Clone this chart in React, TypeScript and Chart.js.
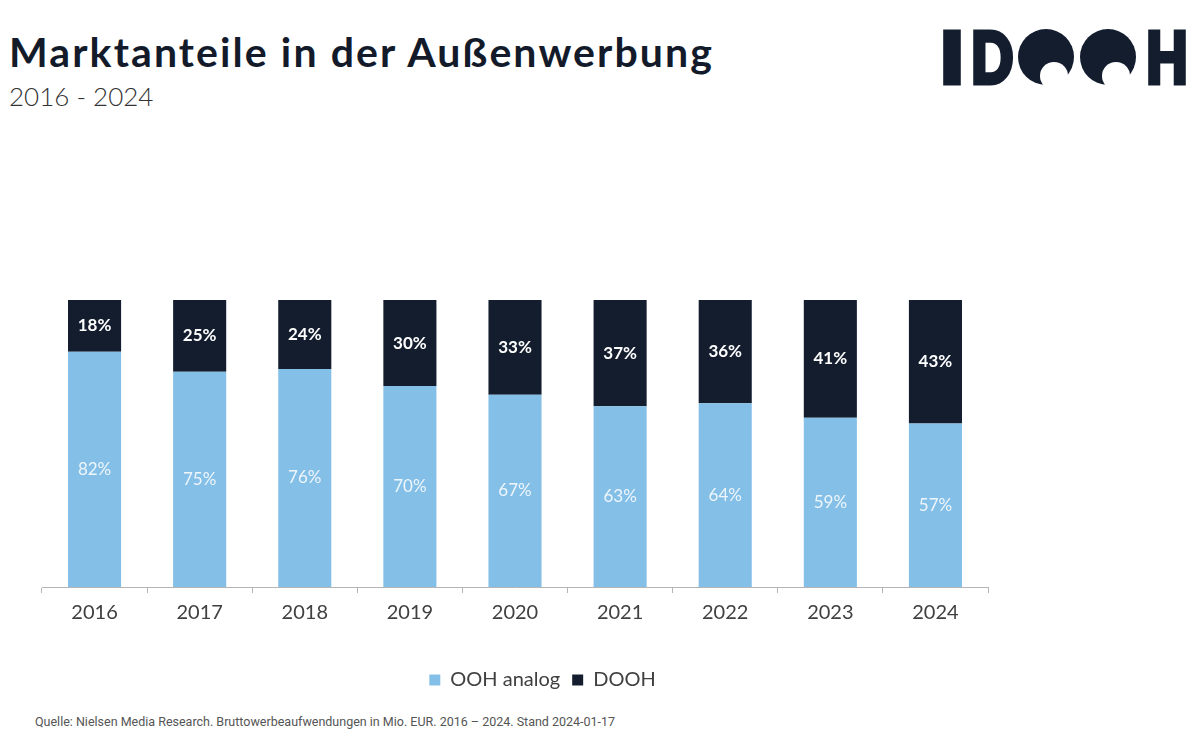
import React, { useEffect, useRef } from "react";
import { Chart, registerables } from "chart.js";

Chart.register(...registerables);

const YEARS = ["2016", "2017", "2018", "2019", "2020", "2021", "2022", "2023", "2024"];
const OOH_ANALOG = [82, 75, 76, 70, 67, 63, 64, 59, 57];
const DOOH = [18, 25, 24, 30, 33, 37, 36, 41, 43];
const SERIES_NAMES = ["OOH analog", "DOOH"];

const LIGHT_BLUE = "#84BFE7";
const DARK = "#131D2E";
const FONT = "Lato, 'Open Sans', sans-serif";

const barLabelPlugin = {
  id: "barLabels",
  afterDatasetsDraw(chart: any) {
    const ctx = chart.ctx;
    ctx.save();
    ctx.textAlign = "center";
    ctx.textBaseline = "middle";
    chart.data.datasets.forEach((ds: any, di: number) => {
      const meta = chart.getDatasetMeta(di);
      meta.data.forEach((bar: any, i: number) => {
        const v = ds.data[i];
        const y = (bar.y + bar.base) / 2;
        ctx.fillStyle = di === 0 ? "#EEF6FC" : "#FFFFFF";
        ctx.font = (di === 0 ? "400 " : "700 ") + "17px " + FONT;
        ctx.fillText(v + "%", bar.x, y);
      });
    });
    ctx.restore();
  },
};

function BarChart() {
  const ref = useRef<HTMLCanvasElement | null>(null);
  useEffect(() => {
    if (!ref.current) return;
    const chart = new Chart(ref.current, {
      type: "bar",
      data: {
        labels: YEARS,
        datasets: [
          {
            label: SERIES_NAMES[0],
            data: OOH_ANALOG,
            backgroundColor: LIGHT_BLUE,
            categoryPercentage: 1,
            barPercentage: 0.505,
            yAxisID: "y",
          },
          {
            label: SERIES_NAMES[1],
            data: DOOH,
            backgroundColor: DARK,
            categoryPercentage: 1,
            barPercentage: 0.505,
            yAxisID: "y",
          },
        ],
      },
      options: {
        animation: false,
        responsive: true,
        maintainAspectRatio: false,
        layout: { padding: { top: 39, left: 0, right: 0, bottom: 8 } },
        plugins: {
          tooltip: { enabled: false },
          legend: {
            position: "bottom",
            labels: {
              boxWidth: 11,
              boxHeight: 11,
              padding: 12,
              color: "#404040",
              font: { family: FONT, size: 20 },
            },
          },
        },
        scales: {
          x: {
            stacked: true,
            offset: true,
            grid: {
              display: true,
              drawOnChartArea: false,
              drawTicks: true,
              tickLength: 6,
              color: "#B5B5B5",
              offset: true,
            },
            border: { display: true, color: "#B5B5B5", width: 1 },
            ticks: {
              color: "#404040",
              padding: 8,
              font: { family: FONT, size: 20 },
            },
            afterFit: (s: any) => {
              s.height = 71;
            },
          },
          y: {
            stacked: true,
            min: 0,
            max: 100,
            display: true,
            ticks: { display: false },
            grid: { display: false },
            border: { display: false },
            afterFit: (s: any) => {
              s.width = 42;
            },
          },
          y2: {
            type: "linear",
            position: "right",
            min: 0,
            max: 100,
            display: true,
            ticks: { display: false },
            grid: { display: false },
            border: { display: false },
            afterFit: (s: any) => {
              s.width = 97;
            },
          },
        },
      },
      plugins: [barLabelPlugin],
    });
    return () => chart.destroy();
  }, []);
  return <canvas ref={ref} />;
}

function Logo() {
  const c = DARK;
  const oCenters = [1046, 1108];
  const letter = (ch: string, x: number, w: number) => (
    <text
      x={x}
      y={83}
      fontFamily={FONT}
      fontWeight={900}
      fontSize={70}
      fill={c}
      stroke={c}
      strokeWidth={5}
      strokeLinejoin="miter"
      textLength={w}
      lengthAdjust="spacingAndGlyphs"
    >
      {ch}
    </text>
  );
  return (
    <svg
      width={1200}
      height={110}
      style={{ position: "absolute", left: 0, top: 0 }}
      viewBox="0 0 1200 110"
    >
      <defs>
        {oCenters.map((cx, i) => (
          <mask id={"bite" + i} key={i}>
            <rect x={0} y={0} width={1200} height={110} fill="white" />
            <circle cx={cx + 8} cy={76} r={14} fill="black" />
          </mask>
        ))}
      </defs>
      {letter("I", 940, 24)}
      {letter("D", 971, 42)}
      {oCenters.map((cx, i) => (
        <circle key={i} cx={cx} cy={57} r={28} fill={c} mask={"url(#bite" + i + ")"} />
      ))}
      {letter("H", 1146, 42)}
    </svg>
  );
}

export default function App() {
  return (
    <div
      style={{
        position: "absolute",
        left: 0,
        top: 0,
        width: 1200,
        height: 750,
        background: "#fff",
        overflow: "hidden",
        fontFamily: FONT,
      }}
    >
      <Logo />
      <div
        style={{
          position: "absolute",
          left: 9,
          top: 29,
          fontSize: 41,
          fontWeight: 700,
          letterSpacing: "2.1px",
          color: "#131B2B",
          lineHeight: "46px",
          whiteSpace: "nowrap",
        }}
      >
        Marktanteile in der Außenwerbung
      </div>
      <div
        style={{
          position: "absolute",
          left: 9,
          top: 80,
          fontSize: 26,
          fontWeight: 300,
          color: "#333",
          lineHeight: "32px",
          whiteSpace: "nowrap",
        }}
      >
        2016 - 2024
      </div>
      <div style={{ position: "absolute", left: 0, top: 261, width: 1085, height: 447 }}>
        <BarChart />
      </div>
      <div
        style={{
          position: "absolute",
          left: 35,
          top: 714,
          fontSize: 12.5,
          color: "#555",
          lineHeight: "16px",
          whiteSpace: "nowrap",
          fontFamily: "'Liberation Sans Narrow', Roboto, sans-serif",
        }}
      >
        Quelle: Nielsen Media Research. Bruttowerbeaufwendungen in Mio. EUR. 2016 – 2024. Stand 2024-01-17
      </div>
    </div>
  );
}
